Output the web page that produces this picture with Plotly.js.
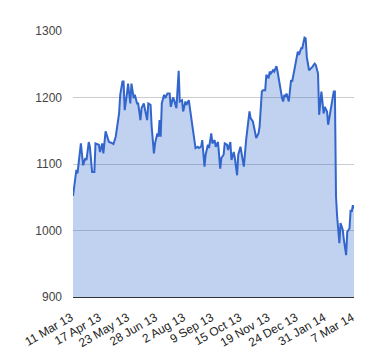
<!DOCTYPE html>
<html>
<head>
<meta charset="utf-8">
<script src="https://cdn.plot.ly/plotly-3.0.1.min.js"></script>
<style>html,body{margin:0;padding:0;background:#fff;}#chart{width:380px;height:360px;}</style>
</head>
<body>
<div id="chart"></div>
<script>
// trading-day index (0 = 11 Mar 13) and closing value
const day = [0,3,4,7,9,11,12,14,15,17,19,20,23,24,26,27,29,31,32,34,36,38,40,41,42,44,45,46,48,49,
  51,52,54,55,57,58,60,61,63,64,66,67,69,70,72,73,75,76,77,78,79,81,82,84,86,87,89,90,92,94,
  95,97,98,100,101,103,104,106,107,108,109,111,112,114,115,117,118,120,121,123,124,126,127,129,131,132,134,135,137,138,
  140,141,143,144,146,147,149,151,152,154,155,157,158,160,161,163,165,166,168,169,171,172,174,175,176,178,179,181,182,184,
  186,187,188,189,190,192,194,195,197,198,200,201,203,204,206,207,208,210,212,213,215,216,218,219,221,223,224,226,227,229,
  230,232,233,234,235,237,238,240,241,243,244,246,247,248,249,250];
const price = [1052,1091,1086,1131,1098,1109,1106,1133,1126,1088,1088,1131,1129,1118,1131,1116,1149,1136,1133,1132,1130,1141,1169,1176,1204,1224,1224,1181,1206,1221,
  1191,1221,1199,1204,1191,1191,1166,1184,1191,1181,1166,1191,1189,1156,1116,1131,1146,1141,1166,1141,1191,1204,1199,1206,1206,1186,1200,1196,1184,1240,
  1194,1196,1179,1194,1189,1196,1184,1166,1149,1144,1124,1126,1124,1126,1136,1096,1114,1129,1124,1146,1131,1136,1126,1133,1093,1109,1114,1131,1129,1121,
  1133,1106,1118,1109,1083,1114,1126,1106,1096,1136,1151,1179,1169,1164,1156,1139,1146,1156,1209,1211,1211,1234,1229,1239,1236,1241,1239,1247,1239,1215,
  1199,1194,1204,1201,1206,1194,1226,1224,1241,1249,1269,1264,1274,1274,1290,1289,1261,1241,1244,1246,1251,1249,1236,1174,1209,1176,1186,1179,1159,1181,
  1186,1209,1209,1051,1021,981,1011,1001,986,963,998,1003,1031,1028,1038,1033];
const tickDays = [0,25,50,75,100,125,150,175,200,225,250];
const tickLabels = ['11 Mar 13','17 Apr 13','23 May 13','28 Jun 13','2 Aug 13','9 Sep 13','15 Oct 13','19 Nov 13','24 Dec 13','31 Jan 14','7 Mar 14'];
const yTicks = [900,1000,1100,1200,1300];

const trace = {
  x: day, y: price, type: 'scatter', mode: 'lines',
  line: {color: '#3366cc', width: 2},
  fill: 'tozeroy', fillcolor: 'rgba(51,102,204,0.3)',
  hoverinfo: 'none'
};
const layout = {
  width: 380, height: 360,
  margin: {l: 73, r: 26, t: 31, b: 63},
  paper_bgcolor: '#fff', plot_bgcolor: '#fff',
  font: {family: '"Liberation Sans", Arial, sans-serif', size: 12, color: '#222'},
  showlegend: false,
  xaxis: {
    range: [0, 250], tickmode: 'array', tickvals: tickDays, ticktext: tickLabels,
    tickangle: -30, showgrid: false, zeroline: false,
    showline: true, linecolor: '#333', linewidth: 1,
    ticks: '', ticklabelstandoff: 8, ticklabelshift: -2,
    tickfont: {size: 12, color: '#222'}
  },
  yaxis: {
    range: [900, 1300], tickmode: 'array', tickvals: yTicks,
    showgrid: true, gridcolor: '#cccccc', gridwidth: 1, zeroline: false,
    showline: false, ticks: '', ticklabelstandoff: 10,
    tickfont: {size: 12, color: '#444'}
  }
};
Plotly.newPlot('chart', [trace], layout, {staticPlot: true, displayModeBar: false});
</script>
</body>
</html>
